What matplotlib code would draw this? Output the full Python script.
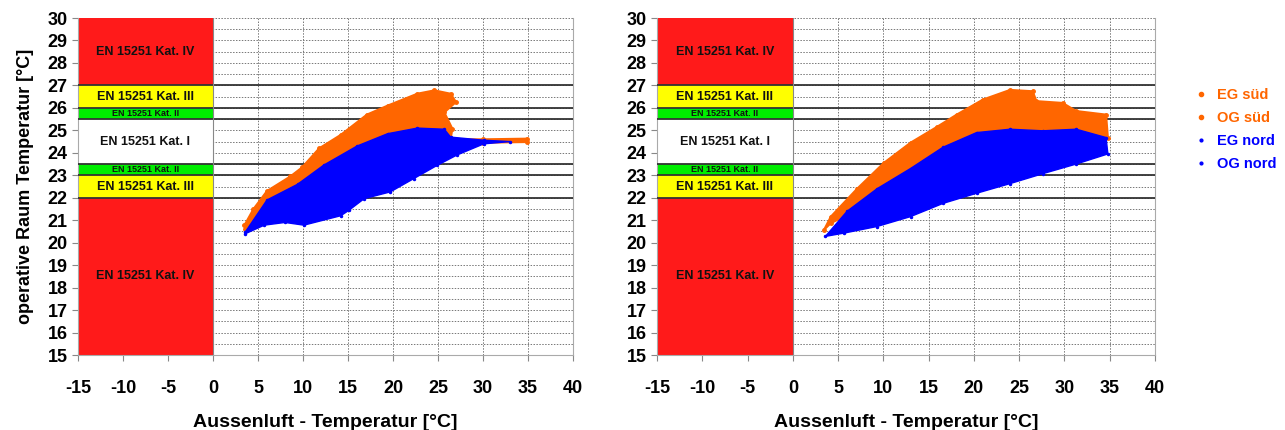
import matplotlib.pyplot as plt
from matplotlib.lines import Line2D

plt.rcParams['font.family'] = ['Liberation Sans', 'DejaVu Sans']
plt.rcParams['axes.unicode_minus'] = False

# comfort bands (EN 15251), lower edge, upper edge, colour, label, fontsize
band_lo = [15, 22, 23, 23.5, 25.5, 26, 27]
band_hi = [22, 23, 23.5, 25.5, 26, 27, 30]
band_col = ['#ff1a1a', '#ffff00', '#00ee00', '#ffffff', '#00ee00', '#ffff00', '#ff1a1a']
band_lab = ['EN 15251 Kat. IV', 'EN 15251 Kat. III', 'EN 15251 Kat. II', 'EN 15251 Kat. I',
            'EN 15251 Kat. II', 'EN 15251 Kat. III', 'EN 15251 Kat. IV']
band_fs = [9, 9, 6.5, 9, 6.5, 9, 9]
limits = [22, 23, 23.5, 25.5, 26, 27]

# cloud outlines (outdoor temp, room temp)
left_sued_x = [3.5, 4.5, 6.0, 8.6, 9.9, 11.8, 14.2, 17.1, 19.4, 22.7, 24.6, 26.4, 27.0, 25.7,
               26.6, 26.4, 30.0, 34.9, 34.9, 30.0, 27.9, 25.0, 20.0, 16.0, 13.1, 10.0, 5.7, 3.6]
left_sued_y = [20.78, 21.5, 22.3, 22.95, 23.35, 24.2, 24.8, 25.7, 26.1, 26.63, 26.78, 26.63, 26.26, 25.8,
               25.07, 24.6, 24.6, 24.63, 24.48, 24.45, 24.48, 23.9, 23.0, 22.3, 21.8, 21.4, 21.07, 20.6]
left_nord_x = [3.6, 6.0, 9.4, 12.3, 16.0, 19.4, 22.7, 25.7, 26.4, 30.1, 33.0, 30.1, 27.1, 24.9,
               22.3, 19.7, 16.8, 15.1, 14.2, 10.1, 8.0, 5.7, 3.6]
left_nord_y = [20.48, 21.9, 22.6, 23.45, 24.3, 24.85, 25.1, 25.05, 24.7, 24.56, 24.5, 24.4, 23.9, 23.44,
               22.85, 22.26, 21.96, 21.44, 21.2, 20.78, 20.9, 20.78, 20.4]
right_sued_x = [3.46, 4.2, 7.1, 10.05, 13.0, 15.9, 18.1, 21.0, 24.0, 26.5, 26.9, 29.8, 31.3, 34.6,
                34.8, 32.0, 27.0, 20.0, 14.1, 13.7, 7.9, 4.2]
right_sued_y = [20.58, 21.16, 22.4, 23.55, 24.45, 25.15, 25.7, 26.37, 26.8, 26.74, 26.3, 26.22, 25.86, 25.7,
                24.68, 24.68, 24.7, 23.9, 23.0, 21.82, 21.6, 20.87]
right_nord_x = [3.6, 6.0, 9.3, 13.0, 16.6, 20.3, 24.0, 27.6, 31.3, 34.6, 34.8, 31.3, 27.6, 24.0,
                20.3, 16.6, 13.0, 9.3, 5.7]
right_nord_y = [20.28, 21.4, 22.4, 23.3, 24.25, 24.9, 25.05, 24.98, 25.05, 24.68, 23.95, 23.5, 23.07, 22.63,
                22.2, 21.75, 21.16, 20.72, 20.43]

sued_col = '#ff6600'
nord_col = '#0000ff'

fig = plt.figure(figsize=(12.85, 4.3), dpi=100)
ax1 = fig.add_axes([0.0607, 0.1744, 0.3852, 0.7837])
ax2 = fig.add_axes([0.5113, 0.1744, 0.3875, 0.7837])


def draw_panel(ax, sx, sy, nx, ny):
    for lo, hi, c, lab, fs in zip(band_lo, band_hi, band_col, band_lab, band_fs):
        ax.fill_between([-15, 0], lo, hi, color=c, zorder=2, lw=0)
        ax.text(-7.5, (lo + hi) / 2, lab, ha='center', va='center', fontsize=fs,
                fontweight='bold', color='#111111', zorder=3)
    for y in limits:
        ax.axhline(y, color='#333333', lw=1.3, zorder=3)
    ax.axvline(0, color='#888888', lw=0.8, zorder=3)

    ax.fill(sx, sy, color=sued_col, lw=1.5, zorder=4)
    ax.plot(sx, sy, ls='none', marker='o', ms=2.5, color=sued_col, zorder=4)
    ax.fill(nx, ny, color=nord_col, lw=1.0, zorder=5)
    ax.plot(nx, ny, ls='none', marker='o', ms=1.5, color=nord_col, zorder=5)

    ax.set_xlim(-15, 40)
    ax.set_ylim(15, 30)
    ax.set_xticks(range(-15, 41, 5))
    ax.set_yticks(range(15, 31))
    ax.set_yticks([v + 0.5 for v in range(15, 30)], minor=True)
    ax.grid(True, which='both', axis='y', color='#777777', ls=(0, (1.5, 1.5)), lw=0.7, zorder=1)
    ax.grid(True, which='major', axis='x', color='#777777', ls=(0, (1.5, 1.5)), lw=0.7, zorder=1)
    ax.tick_params(axis='both', which='major', labelsize=13, length=4, color='#888888')
    ax.tick_params(axis='y', which='minor', length=0)
    ax.tick_params(axis='x', pad=14)
    for lab in ax.get_xticklabels() + ax.get_yticklabels():
        lab.set_fontweight('bold')
    for s in ax.spines.values():
        s.set_color('#aaaaaa')
    ax.spines['top'].set_visible(False)
    ax.set_xlabel('Aussenluft - Temperatur [°C]', fontsize=14, fontweight='bold', labelpad=12)


draw_panel(ax1, left_sued_x, left_sued_y, left_nord_x, left_nord_y)
draw_panel(ax2, right_sued_x, right_sued_y, right_nord_x, right_nord_y)
ax1.set_ylabel('operative Raum Temperatur [°C]', fontsize=13, fontweight='bold', labelpad=10)

handles = [Line2D([], [], ls='none', marker='o', ms=3, color=sued_col),
           Line2D([], [], ls='none', marker='o', ms=3, color=sued_col),
           Line2D([], [], ls='none', marker='o', ms=2, color=nord_col),
           Line2D([], [], ls='none', marker='o', ms=2, color=nord_col)]
names = ['EG süd', 'OG süd', 'EG nord', 'OG nord']
leg = fig.legend(handles, names, loc='upper left', bbox_to_anchor=(0.919, 0.825),
                 frameon=False, fontsize=10.5, handletextpad=0.6, labelspacing=0.6, handlelength=1)
for t, c in zip(leg.get_texts(), [sued_col, sued_col, nord_col, nord_col]):
    t.set_color(c)
    t.set_fontweight('bold')

fig.savefig('out.png', dpi=100)
